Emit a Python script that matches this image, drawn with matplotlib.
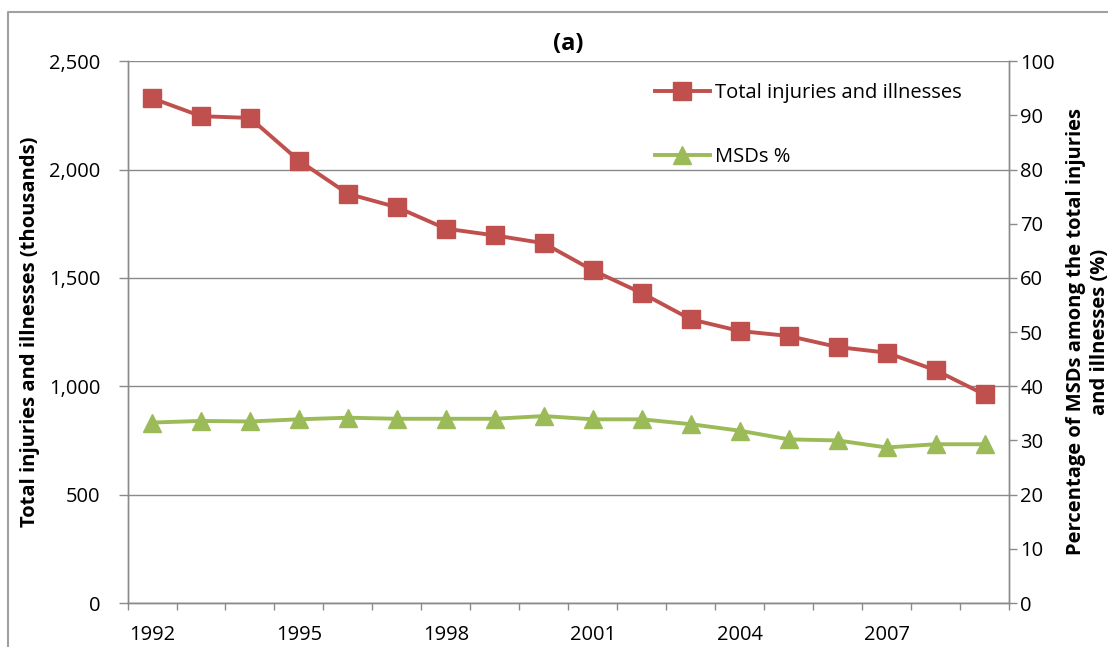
import numpy as np
import matplotlib
matplotlib.use("Agg")
import matplotlib.pyplot as plt
from matplotlib.lines import Line2D

plt.rcParams['font.family'] = ['Open Sans', 'DejaVu Sans']

years = list(range(1992, 2010))
total_injuries = [2329, 2246, 2238, 2041, 1888, 1826, 1727, 1696, 1660,
                  1535, 1430, 1309, 1255, 1232, 1181, 1155, 1074, 962]
msd_pct = [33.3, 33.6, 33.5, 33.9, 34.2, 34.0, 34.0, 34.0, 34.5,
           33.9, 33.9, 33.0, 31.8, 30.2, 30.0, 28.7, 29.3, 29.3]
label_years = [1992, 1995, 1998, 2001, 2004, 2007]

red = '#C0504D'
green = '#9BBB59'
gray = '#8a8a8a'
fs = 14.5

fig = plt.figure(figsize=(11.08, 6.47), dpi=100)
ax = fig.add_axes([0.1151, 0.068, 0.7956, 0.8375])
ax2 = ax.twinx()

x = np.arange(len(years))
l1, = ax.plot(x, total_injuries, color=red, lw=2.8, marker='s', ms=12.5,
              label='Total injuries and illnesses', zorder=3)
l2, = ax2.plot(x, msd_pct, color=green, lw=2.8, marker='^', ms=13,
               label='MSDs %', zorder=3)

ax.set_xlim(-0.5, len(years) - 0.5)
ax.set_ylim(0, 2500)
ax2.set_ylim(0, 100)

# category boundaries as tick marks, labels at category centres
ax.set_xticks(np.arange(-0.5, len(years), 1.0))
ax.set_xticklabels([])
ax.set_xticks([years.index(y) for y in label_years], minor=True)
ax.set_xticklabels([str(y) for y in label_years], minor=True, fontsize=fs)
ax.tick_params(axis='x', which='major', direction='out', length=5, width=1, color=gray)
ax.tick_params(axis='x', which='minor', length=0, pad=16)

ax.set_yticks(np.arange(0, 2501, 500))
ax.set_yticklabels(['{:,}'.format(v) for v in range(0, 2501, 500)], fontsize=fs)
ax.tick_params(axis='y', direction='out', length=6.5, width=1, color=gray, pad=13)
ax2.set_yticks(np.arange(0, 101, 10))
ax2.set_yticklabels([str(v) for v in range(0, 101, 10)], fontsize=fs)
ax2.tick_params(axis='y', direction='out', length=6, width=1, color=gray, pad=2)

ax.grid(axis='y', color=gray, lw=1)
ax.set_axisbelow(True)
for a in (ax, ax2):
    a.spines['top'].set_visible(False)
    for s in ('left', 'right', 'bottom'):
        a.spines[s].set_color(gray)
        a.spines[s].set_linewidth(1)

ax.set_title('(a)', fontsize=17, fontweight='bold', pad=8)
fig.text(30 / 1108, 0.487, 'Total injuries and illnesses (thousands)', rotation=90,
         ha='center', va='center', fontsize=fs, fontweight='bold')
fig.text(1088 / 1108, 0.487, 'Percentage of MSDs among the total injuries\nand illnesses (%)',
         rotation=90, ha='center', va='center', multialignment='center',
         fontsize=fs, fontweight='bold', linespacing=1.2)

ax2.legend(handles=[l1, l2], loc='upper left', bbox_to_anchor=(0.598, 0.96),
           frameon=False, fontsize=fs, handlelength=2.75, handletextpad=0.25,
           labelspacing=2.2, borderpad=0, borderaxespad=0)

# outer chart frame
fig.add_artist(Line2D([8 / 1108, 8 / 1108, 1.0], [0.0, 1 - 12 / 647, 1 - 12 / 647],
                      transform=fig.transFigure, color='#a0a0a0', lw=1.5))

fig.savefig('out.png', dpi=100)
